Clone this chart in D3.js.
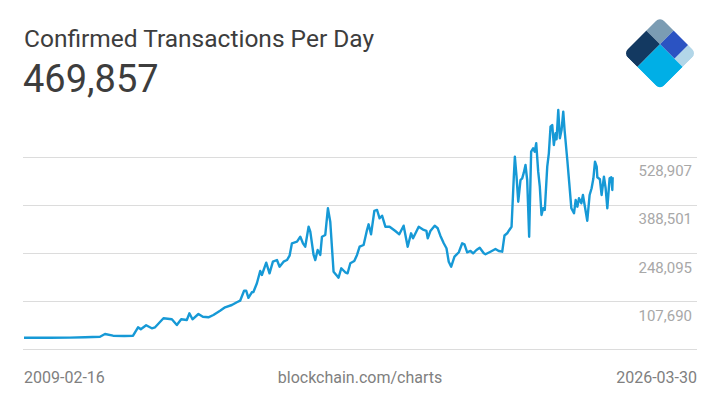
<!DOCTYPE html>
<html>
<head>
<meta charset="utf-8">
<script src="https://cdn.jsdelivr.net/npm/d3@7"></script>
<style>
  html, body { margin: 0; padding: 0; background: #fff; }
  text { font-family: Roboto, "Noto Sans", sans-serif; }
</style>
</head>
<body>
<script>
// confirmed transactions per day
const w = 720, h = 405

const title = 'Confirmed Transactions Per Day'
const latest = 469857
const firstDate = '2009-02-16', lastDate = '2026-03-30'
const source = 'blockchain.com/charts'

const dates = [
  '2009-02-16', '2009-11-18', '2010-06-19', '2010-11-25', '2011-05-04', '2011-06-26', '2011-09-19',
  '2012-01-15', '2012-04-19', '2012-06-11', '2012-07-10', '2012-09-05', '2012-11-04', '2012-12-09',
  '2013-03-08', '2013-06-05', '2013-07-28', '2013-09-12', '2013-11-11', '2013-12-08', '2014-01-10',
  '2014-03-14', '2014-04-30', '2014-06-28', '2014-08-20', '2014-10-30', '2014-12-22', '2015-03-04',
  '2015-04-26', '2015-05-31', '2015-07-12', '2015-08-03', '2015-08-27', '2015-10-02', '2015-10-19',
  '2015-11-25', '2015-12-30', '2016-01-17', '2016-03-03', '2016-04-07', '2016-05-13', '2016-06-25',
  '2016-07-23', '2016-09-03', '2016-10-09', '2016-11-06', '2016-12-01', '2017-01-24', '2017-02-28',
  '2017-03-28', '2017-04-21', '2017-05-27', '2017-06-14', '2017-07-19', '2017-08-06', '2017-08-31',
  '2017-09-28', '2017-10-16', '2017-11-20', '2017-12-18', '2018-01-12', '2018-02-16', '2018-03-24',
  '2018-04-10', '2018-05-09', '2018-06-20', '2018-07-15', '2018-08-13', '2018-09-24', '2018-10-23',
  '2018-11-20', '2019-01-01', '2019-02-06', '2019-02-23', '2019-03-21', '2019-04-25', '2019-05-24',
  '2019-06-20', '2019-07-16', '2019-08-20', '2019-10-04', '2019-12-04', '2020-01-15', '2020-03-01',
  '2020-04-13', '2020-05-19', '2020-06-09', '2020-08-08', '2020-09-30', '2020-10-29', '2020-11-12',
  '2020-12-10', '2021-01-25', '2021-02-26', '2021-03-26', '2021-05-01', '2021-05-30', '2021-06-23',
  '2021-07-19', '2021-08-23', '2021-10-08', '2021-11-13', '2021-12-07', '2022-01-05', '2022-02-09',
  '2022-03-09', '2022-04-13', '2022-05-18', '2022-06-30', '2022-07-18', '2022-09-09', '2022-11-01',
  '2022-12-06', '2023-01-12', '2023-02-05', '2023-03-06', '2023-03-23', '2023-04-21', '2023-05-15',
  '2023-05-26', '2023-06-13', '2023-07-01', '2023-07-25', '2023-08-12', '2023-08-29', '2023-09-16',
  '2023-10-04', '2023-10-25', '2023-11-15', '2023-12-06', '2023-12-23', '2024-01-08', '2024-01-29',
  '2024-02-15', '2024-03-04', '2024-03-22', '2024-04-08', '2024-05-04', '2024-05-21', '2024-06-08',
  '2024-06-26', '2024-07-13', '2024-07-31', '2024-08-11', '2024-08-29', '2024-09-15', '2024-10-03',
  '2024-10-21', '2024-11-04', '2024-12-03', '2024-12-24', '2025-01-15', '2025-02-12', '2025-03-02',
  '2025-03-20', '2025-04-06', '2025-05-01', '2025-05-18', '2025-06-08', '2025-07-03', '2025-07-28',
  '2025-08-18', '2025-09-06', '2025-09-23', '2025-10-11', '2025-10-18', '2025-11-14', '2025-12-02',
  '2025-12-27', '2026-01-14', '2026-02-01', '2026-02-25', '2026-03-15', '2026-03-26', '2026-03-30'
]

const txs = [
  100, 300, 600, 1500, 3300, 11200, 6200,
  5500, 6200, 30800, 24900, 36600, 27900, 30800,
  57100, 54200, 37500, 54200, 52100, 71700, 54200,
  69700, 61800, 60000, 66800, 79300, 89300, 96000,
  103900, 108600, 137800, 137800, 116900, 133200, 134000,
  159500, 195500, 183800, 219700, 188700, 222700, 227600,
  208000, 222700, 227600, 240200, 276500, 281200, 295800,
  276500, 266500, 325000, 310400, 242300, 227600, 256900,
  242300, 295800, 300800, 378900, 339700, 193400, 181700,
  175900, 203400, 191700, 188700, 218000, 224700, 242300,
  266500, 271500, 315400, 332100, 302800, 371000, 373900,
  349600, 357200, 325000, 325000, 312500, 302800, 328000,
  266500, 305700, 291100, 325000, 315400, 312500, 291100,
  312500, 328000, 320400, 298700, 276500, 261900, 222700,
  208000, 237300, 250200, 276500, 273600, 250200, 254000,
  247200, 256900, 263600, 247200, 244300, 251900, 259800,
  254000, 251900, 299300, 305700, 313300, 325000, 471300,
  529800, 471300, 398200, 461600, 466600, 483000, 505500,
  461600, 295800, 544400, 554400, 544400, 569000, 485900,
  442000, 359300, 378900, 373900, 500600, 539700, 617600,
  622500, 564000, 598200, 580700, 666400, 583600, 607900,
  661400, 607900, 520100, 452000, 378900, 364200, 403100,
  383500, 408100, 393500, 417800, 383500, 342600, 417800,
  437400, 466600, 515200, 500600, 469500, 463700, 417800,
  471300, 437400, 378900, 466600, 469500, 432400, 469857
]

const yTicks = [-32715, 107690, 248095, 388501, 528907]
const yDomain = [-32715, 669310]

const parse = d3.timeParse('%Y-%m-%d')
const data = dates.map((d, i) => ({ date: parse(d), value: txs[i] }))

const svg = d3.select('body').append('svg')
  .attr('width', w)
  .attr('height', h)

const x = d3.scaleTime()
  .domain([parse(firstDate), parse(lastDate)])
  .range([24, 612.7])

const y = d3.scaleLinear()
  .domain(yDomain)
  .range([349, 109])

// header
svg.append('text')
  .attr('x', 24).attr('y', 47)
  .attr('font-size', 24.5)
  .attr('fill', '#3d3d3d')
  .text(title)

svg.append('text')
  .attr('x', 23).attr('y', 92)
  .attr('font-size', 38)
  .attr('fill', '#3d3d3d')
  .text(d3.format(',')(latest))

// logo: rotated square cut into five pieces
const s = 51.6, j = 19.5, k = 40
const logo = svg.append('g').attr('transform', 'translate(660,16.7) rotate(45)')
logo.append('clipPath').attr('id', 'logo-clip')
  .append('rect').attr('width', s).attr('height', s).attr('rx', 6)
const pieces = [
  [0, 0, j, j, '#7b9cb3'],
  [j, 0, k - j, j, '#2b53c2'],
  [k, 0, s - k, j, '#b2d6e8'],
  [0, j, j, s - j, '#133961'],
  [j, j, s - j, s - j, '#00afe6']
]
logo.append('g').attr('clip-path', 'url(#logo-clip)')
  .selectAll('rect').data(pieces).join('rect')
  .attr('x', d => d[0]).attr('y', d => d[1])
  .attr('width', d => d[2]).attr('height', d => d[3])
  .attr('fill', d => d[4])

// y grid + labels
const yAxis = svg.append('g')
  .attr('transform', 'translate(697,0)')
  .call(d3.axisRight(y).tickValues(yTicks).tickSize(-674).tickFormat(d3.format(',')))
yAxis.select('.domain').remove()
yAxis.selectAll('.tick line').attr('stroke', '#dcdcdc').attr('stroke-width', 1)
yAxis.selectAll('.tick text')
  .attr('x', -5).attr('dy', 19)
  .attr('text-anchor', 'end')
  .attr('font-size', 15)
  .attr('font-family', 'Roboto, sans-serif')
  .attr('fill', '#a8a8a8')
  .filter((d, i) => i === 0).remove()

// the line
svg.append('path')
  .datum(data)
  .attr('fill', 'none')
  .attr('stroke', '#1699d6')
  .attr('stroke-width', 2.4)
  .attr('stroke-linejoin', 'round')
  .attr('d', d3.line().x(d => x(d.date)).y(d => y(d.value)))

// footer
const foot = svg.append('g').attr('font-size', 16).attr('fill', '#808080')
foot.append('text').attr('x', 24).attr('y', 383).text(firstDate)
foot.append('text').attr('x', 360).attr('y', 383).attr('text-anchor', 'middle').text(source)
foot.append('text').attr('x', 697).attr('y', 383).attr('text-anchor', 'end').text(lastDate)
</script>
</body>
</html>
